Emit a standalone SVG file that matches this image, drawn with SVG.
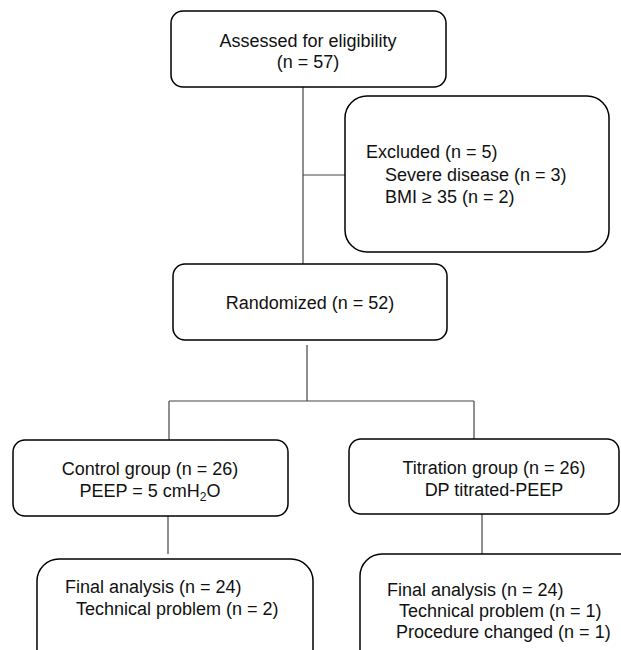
<svg xmlns="http://www.w3.org/2000/svg" width="621" height="650" viewBox="0 0 621 650">
<style>
.box{fill:#fff;stroke:#000;stroke-width:1.5}
.ln{fill:none;stroke:#444;stroke-width:1.2}
text{font-family:"Liberation Sans",Arial,sans-serif;font-size:18px;fill:#111}
.c{text-anchor:middle}
</style>
<rect width="621" height="650" fill="#fff"/>
<g id="connectors">
<path class="ln" d="M303,87 V264"/>
<path class="ln" d="M303,175 H345"/>
<path class="ln" d="M307,345 V401"/>
<path class="ln" d="M169,401 H474"/>
<path class="ln" d="M169,401 V440"/>
<path class="ln" d="M474,401 V439"/>
<path class="ln" d="M168,516 V554"/>
<path class="ln" d="M482,514 V554"/>
</g>
<g id="assessed">
<rect class="box" x="171" y="11" width="275" height="76" rx="12"/>
<text class="c" x="308" y="47">Assessed for eligibility</text>
<text class="c" x="308" y="68">(n = 57)</text>
</g>
<g id="excluded">
<rect class="box" x="345" y="96" width="264" height="156" rx="22"/>
<text x="366" y="158">Excluded (n = 5)</text>
<text x="385" y="181">Severe disease (n = 3)</text>
<text x="385" y="203">BMI ≥ 35 (n = 2)</text>
</g>
<g id="randomized">
<rect class="box" x="173" y="264" width="274" height="76" rx="12"/>
<text class="c" x="310" y="309">Randomized (n = 52)</text>
</g>
<g id="control">
<rect class="box" x="13" y="440" width="275" height="76" rx="12"/>
<text class="c" x="150" y="475">Control group (n = 26)</text>
<text class="c" x="150" y="497">PEEP = 5 cmH<tspan font-size="12" dy="4">2</tspan><tspan dy="-4">O</tspan></text>
</g>
<g id="titration">
<rect class="box" x="349" y="439" width="270" height="75" rx="12"/>
<text class="c" x="494" y="474">Titration group (n = 26)</text>
<text class="c" x="494" y="496">DP titrated-PEEP</text>
</g>
<g id="final-control">
<rect class="box" x="37" y="559" width="276" height="120" rx="22"/>
<text x="65" y="593">Final analysis (n = 24)</text>
<text x="76" y="615">Technical problem (n = 2)</text>
</g>
<g id="final-titration">
<rect class="box" x="360" y="554" width="290" height="120" rx="22"/>
<text x="387" y="596">Final analysis (n = 24)</text>
<text x="399" y="617">Technical problem (n = 1)</text>
<text x="396" y="638">Procedure changed (n = 1)</text>
</g>
</svg>
